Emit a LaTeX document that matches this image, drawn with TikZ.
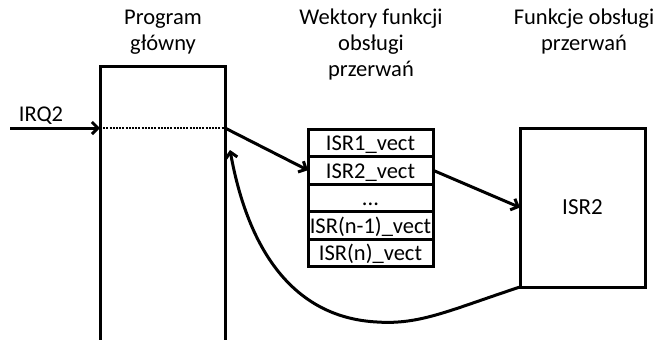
\documentclass[tikz,border=0pt]{standalone}
\usepackage{fontspec}
\setmainfont{Carlito}
\usetikzlibrary{arrows.meta,positioning}

\begin{document}
\begin{tikzpicture}[x=1pt, y=-1pt, line width=3pt, node distance=0pt,
  font=\fontsize{22.5}{26}\selectfont]
  \useasboundingbox (0,0) rectangle (657,340);
  % titles
  \begin{scope}[every node/.style={align=center}]
    \node (tprog) at (163,32) {Program\\główny};
    \node (tvect) at (371,45) {Wektory funkcji\\obsługi\\przerwań};
    \node (tisr) at (584,32) {Funkcje obsługi\\przerwań};
  \end{scope}
  \node (irq) at (41,116) {IRQ2};
  % main program (open at the bottom)
  \node (prog) [minimum width=125pt, minimum height=274pt, outer sep=0pt, anchor=north west] at (100,66) {};
  \draw (prog.south west) -- (prog.north west) -- (prog.north east) -- (prog.south east);
  \coordinate (irqstart) at (10,128);
  \coordinate (irqin) at (prog.west |- irqstart);
  \coordinate (irqout) at (prog.east |- irqstart);
  \coordinate (back) at (230,150);
  % vector table
  \begin{scope}[every node/.style={draw, minimum width=125pt, minimum height=27.5pt,
      inner sep=0pt, outer sep=0pt, text height=16pt, text depth=0pt,
      font=\fontsize{22.5}{26}\selectfont}]
    \node (v1) [anchor=north west] at (308,129) {ISR1\_vect};
    \node (v2) [below=of v1] {ISR2\_vect};
    \node (vdots) [below=of v2] {...};
    \node (vn1) [below=of vdots] {ISR(n-1)\_vect};
    \node (vn) [below=of vn1] {ISR(n)\_vect};
  \end{scope}
  \node (isr) [draw, minimum width=125pt, minimum height=159pt, outer sep=0pt, anchor=north west,
    font=\fontsize{23}{26}\selectfont] at (520,128) {ISR2};
  % connectors
  \draw [line width=2.2pt, dash pattern=on 2pt off 1.2pt] (irqin) -- (irqout);
  \begin{scope}[every edge/.style={draw, line width=3pt, -{Straight Barb[length=6pt,width=12pt]}}]
    \path (irqstart) edge (irqin);
    \path (irqout) edge (v2.west);
    \path (v2.east) edge (isr.west);
  \end{scope}
  \draw [-{Straight Barb[length=6pt,width=12pt]}] (isr.south west)
    .. controls (450,310) and (420,325) .. (377,322)
    .. controls (300,318) and (250,260) .. (back);
\end{tikzpicture}
\end{document}
